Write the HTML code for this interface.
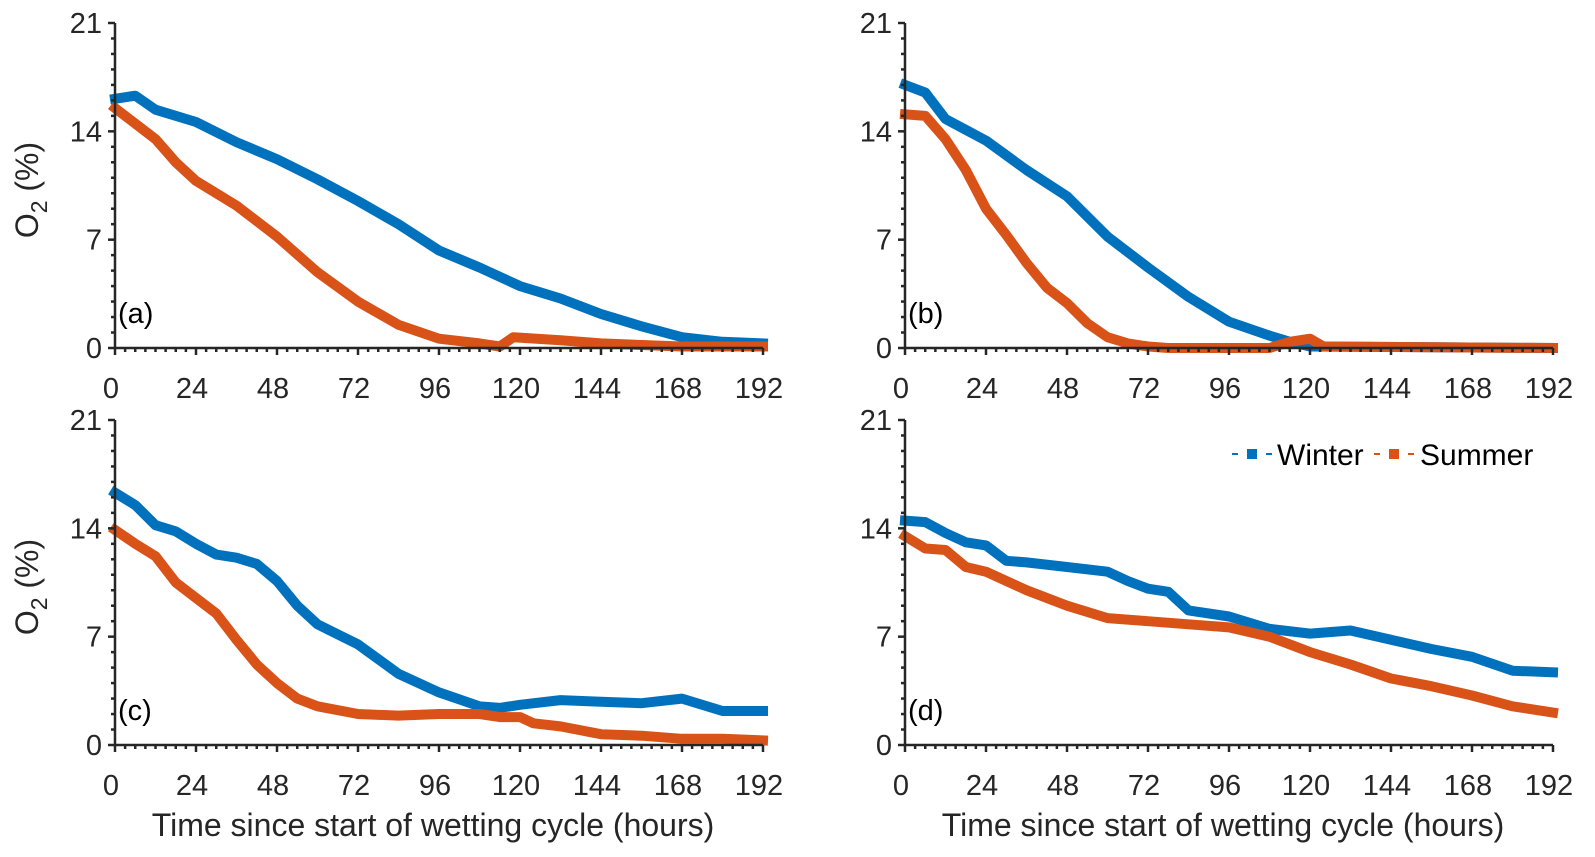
<!DOCTYPE html>
<html><head><meta charset="utf-8"><style>
body{margin:0;background:#fff;}
svg{display:block;font-family:"Liberation Sans",sans-serif;}
</style></head><body>
<svg id="chart" width="1595" height="857" viewBox="0 0 1595 857"></svg>
<script>
const hoursA=[0,6,12,24,36,48,60,72,84,96,108,120,132,144,156,168,180,192];
const winterA=[16.1,16.3,15.4,14.6,13.3,12.2,10.9,9.5,8.0,6.3,5.2,4.0,3.2,2.2,1.4,0.7,0.4,0.3];
const hoursAS=[0,6,12,18,24,36,48,60,72,84,96,108,114,118,132,144,168,192];
const summerA=[15.5,14.5,13.5,12.0,10.8,9.2,7.2,4.9,3.0,1.5,0.6,0.3,0.1,0.7,0.5,0.3,0.1,0.1];
const hoursBW=[0,6,12,24,36,48,60,72,84,96,108,114,120,192];
const winterB=[17.0,16.5,14.8,13.4,11.5,9.8,7.2,5.2,3.3,1.7,0.8,0.4,0.1,0];
const hoursBS=[0,6,12,18,24,30,36,42,48,54,60,66,72,78,108,114,120,124,192];
const summerB=[15.1,15.0,13.5,11.5,9.0,7.3,5.5,3.9,2.9,1.6,0.7,0.3,0.1,0,0,0.4,0.6,0.1,0];
const hoursCW=[0,6,12,18,24,30,36,42,48,54,60,72,84,96,108,114,120,132,144,156,168,180,192];
const winterC=[16.3,15.5,14.2,13.8,13.0,12.3,12.1,11.7,10.6,9.0,7.8,6.5,4.6,3.4,2.5,2.4,2.6,2.9,2.8,2.7,3.0,2.2,2.2];
const hoursCS=[0,6,12,18,24,30,36,42,48,54,60,72,84,96,108,114,120,124,132,144,156,168,180,192];
const summerC=[13.9,13.0,12.2,10.5,9.5,8.5,6.8,5.2,4.0,3.0,2.5,2.0,1.9,2.0,2.0,1.8,1.8,1.4,1.2,0.7,0.6,0.4,0.4,0.3];
const hoursDW=[0,6,12,18,24,30,36,48,60,66,72,78,84,96,108,120,132,144,156,168,180,192];
const winterD=[14.5,14.4,13.7,13.1,12.9,11.9,11.8,11.5,11.2,10.6,10.1,9.9,8.7,8.3,7.5,7.2,7.4,6.8,6.2,5.7,4.8,4.7];
const hoursDS=[0,6,12,18,24,36,48,60,72,84,96,108,120,132,144,156,168,180,192];
const summerD=[13.5,12.7,12.6,11.5,11.2,10.0,9.0,8.2,8.0,7.8,7.6,7.0,6.0,5.2,4.3,3.8,3.2,2.5,2.1];
const xTicks=[0,24,48,72,96,120,144,168,192];
const yTicks=[0,7,14,21];

const NS="http://www.w3.org/2000/svg";
const svg=document.getElementById('chart');
const BLUE="#0072BD",ORANGE="#D95319",AX="#262626";
function mk(tag,attrs,parent){const e=document.createElementNS(NS,tag);for(const k in attrs)e.setAttribute(k,attrs[k]);(parent||svg).appendChild(e);return e;}
const W=648,H=325;
const panels=[
 {id:'a',x0:115,y0:23,hw:hoursA,w:winterA,hs:hoursAS,s:summerA,xl:false,yl:true},
 {id:'b',x0:905,y0:23,hw:hoursBW,w:winterB,hs:hoursBS,s:summerB,xl:false,yl:false},
 {id:'c',x0:115,y0:420,hw:hoursCW,w:winterC,hs:hoursCS,s:summerC,xl:true,yl:true},
 {id:'d',x0:905,y0:420,hw:hoursDW,w:winterD,hs:hoursDS,s:summerD,xl:true,yl:false}
];
panels.forEach(p=>{
 const g=mk('g',{});
 
 
 const sx=h=>p.x0+h/192*W, sy=v=>p.y0+H-v/21*H;
 function series(hs,vs,col,name){
  let d='';hs.forEach((h,i)=>{d+=(i?'L':'M')+sx(h).toFixed(1)+' '+sy(vs[i]).toFixed(1);});
  const pa=mk('path',{d:d,fill:'none',stroke:col,'stroke-width':10,'stroke-linejoin':'round','stroke-linecap':'square'},g);
  
  
 }
 series(p.hw,p.w,BLUE,'winter');
 series(p.hs,p.s,ORANGE,'summer');
 const ax=mk('g',{},g);
 
 
 mk('path',{d:`M${p.x0} ${p.y0}V${p.y0+H}H${p.x0+W}`,fill:'none',stroke:AX,'stroke-width':2.5},ax);
 for(let h=0;h<=192;h+=3){const maj=h%24===0;mk('line',{x1:sx(h),x2:sx(h),y1:p.y0+H,y2:p.y0+H+(maj?7:4),stroke:AX,'stroke-width':2.5},ax);}
 for(let v=0;v<=21;v++){const maj=v%7===0;mk('line',{x1:p.x0,x2:p.x0-(maj?7:4),y1:sy(v),y2:sy(v),stroke:AX,'stroke-width':2.5},ax);}
 xTicks.forEach(t=>{const e=mk('text',{x:sx(t)-4,y:p.y0+H+50,'text-anchor':'middle','font-size':29,fill:AX},ax);e.textContent=t;
  });
 yTicks.forEach(t=>{const e=mk('text',{x:p.x0-13,y:sy(t)+10,'text-anchor':'end','font-size':29,fill:AX},ax);e.textContent=t;
  });
 const pl=mk('text',{x:p.x0+3,y:p.y0+H-25,'font-size':29,fill:'#000'},g);pl.textContent='('+p.id+')';
 
 if(p.xl){const t=mk('text',{x:p.x0+W/2-6,y:p.y0+H+91,'text-anchor':'middle','font-size':32,fill:AX},g);t.textContent='Time since start of wetting cycle (hours)';
  }
 if(p.yl){const cy=p.y0+167;const t=mk('text',{x:0,y:0,transform:`translate(38,${cy}) rotate(-90)`,'text-anchor':'middle','font-size':32,fill:AX},g);
  t.innerHTML='O<tspan font-size="23" dy="9">2</tspan><tspan dy="-9"> (%)</tspan>';
  }
});
// legend
const lg=mk('g',{});


[[1232,1277,BLUE,'Winter'],[1374,1420,ORANGE,'Summer']].forEach(([lx,tx,c,n])=>{
 const e=mk('g',{},lg);
 
 
 mk('line',{x1:lx,x2:lx+41,y1:454,y2:454,stroke:c,'stroke-width':2,'stroke-dasharray':'6 11'},e);
 mk('rect',{x:lx+15,y:449,width:10,height:10,fill:c},e);
 const t=mk('text',{x:tx,y:465,'font-size':30,fill:'#000'},e);t.textContent=n;
});
</script>
</body></html>
